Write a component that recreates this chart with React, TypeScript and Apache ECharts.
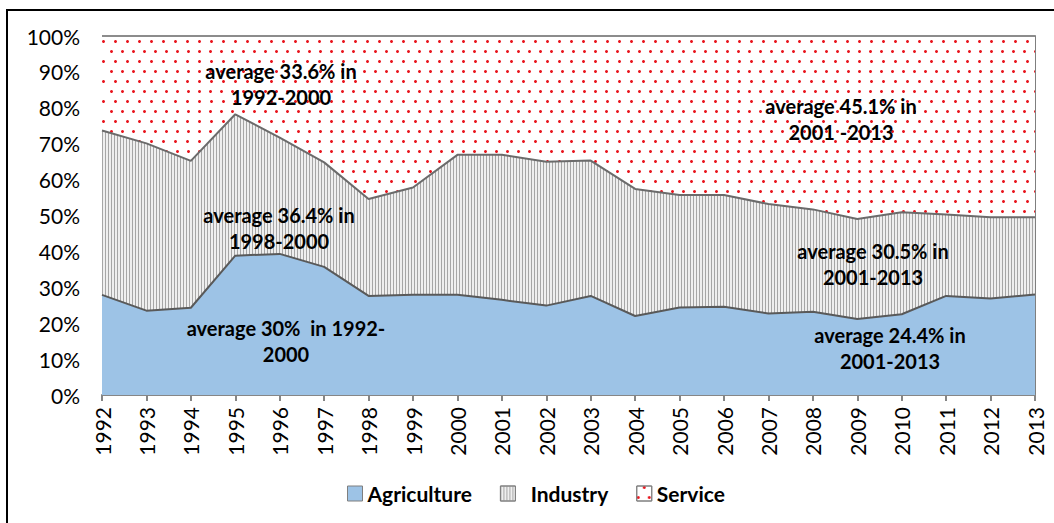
import React, { useEffect, useRef } from "react";
import * as echarts from "echarts";

const years = ["1992","1993","1994","1995","1996","1997","1998","1999","2000","2001","2002","2003","2004","2005","2006","2007","2008","2009","2010","2011","2012","2013"];
const agriculture = [27.9, 23.5, 24.3, 38.8, 39.3, 35.7, 27.6, 27.9, 27.9, 26.5, 24.9, 27.6, 22.0, 24.4, 24.6, 22.7, 23.2, 21.2, 22.5, 27.6, 26.9, 28.0];
const industry = [45.8, 46.6, 40.9, 39.4, 32.4, 29.1, 27.0, 29.9, 39.0, 40.4, 40.1, 37.7, 35.4, 31.3, 31.1, 30.5, 28.5, 27.8, 28.4, 22.7, 22.6, 21.5];
const service = [26.3, 29.9, 34.8, 21.8, 28.3, 35.2, 45.4, 42.2, 33.1, 33.1, 35.0, 34.7, 42.6, 44.3, 44.3, 46.8, 48.3, 51.0, 49.1, 49.7, 50.5, 50.5];
const yTicks = [0, 10, 20, 30, 40, 50, 60, 70, 80, 90, 100];

const annotations = [
  { text: "average 33.6% in\n1992-2000", x: 281, y: 84 },
  { text: "average 36.4% in\n1998-2000", x: 279, y: 228 },
  { text: "average 30%  in 1992-\n2000", x: 286, y: 341 },
  { text: "average 45.1% in\n2001 -2013", x: 841, y: 119 },
  { text: "average 30.5% in\n2001-2013", x: 873, y: 264 },
  { text: "average 24.4% in\n2001-2013", x: 890, y: 348 },
];

const FONT = "Lato";

export default function App() {
  const ref = useRef<HTMLDivElement>(null);
  useEffect(() => {
    if (!ref.current) return;
    const chart = echarts.init(ref.current, null, { renderer: "svg" });
    const option: any = {
      animation: false,
      backgroundColor: "#ffffff",
      textStyle: { fontFamily: FONT },
      grid: { left: 102, right: 19, top: 36, bottom: 128 },
      legend: {
        left: 342,
        top: 478,
        icon: "rect",
        itemWidth: 15,
        itemHeight: 15,
        itemGap: 28,
        itemStyle: { borderColor: "#7f7f7f", borderWidth: 1 },
        textStyle: { fontFamily: FONT, fontSize: 21, fontWeight: "bold", color: "#000" },
        formatter: (name: string) => (name === "Industry" ? "  " + name : name),
        data: ["Agriculture", "Industry", "Service"],
      },
      xAxis: {
        type: "category",
        data: years,
        boundaryGap: false,
        axisLine: { lineStyle: { color: "#868686", width: 2 } },
        axisTick: { show: true, length: 6, lineStyle: { color: "#868686", width: 2 } },
        axisLabel: { rotate: 90, margin: 12, fontSize: 21, color: "#000", fontFamily: FONT },
        splitLine: { show: false },
      },
      yAxis: [
        {
          type: "value",
          min: 0,
          max: 100,
          interval: 10,
          axisLine: { show: false },
          axisTick: { show: false },
          splitLine: { show: false },
          axisLabel: {
            margin: 22,
            fontSize: 21,
            color: "#000",
            fontFamily: FONT,
            formatter: (v: number) => (yTicks.includes(v) ? v + "%" : ""),
          },
        },
        {
          type: "value",
          position: "right",
          min: 0,
          max: 100,
          interval: 10,
          axisLine: { show: true, lineStyle: { color: "#7f7f7f", width: 2 } },
          axisTick: { show: false },
          axisLabel: { show: false },
          splitLine: { show: false },
        },
      ],
      series: [
        {
          name: "Agriculture",
          type: "line",
          stack: "total",
          data: agriculture,
          showSymbol: false,
          symbol: "none",
          lineStyle: { color: "#595959", width: 2 },
          itemStyle: { color: "#9dc3e6" },
          areaStyle: { color: "#9dc3e6", opacity: 1 },
          z: 3,
        },
        {
          name: "Industry",
          type: "line",
          stack: "total",
          data: industry,
          showSymbol: false,
          symbol: "none",
          lineStyle: { color: "#6b6b6b", width: 2 },
          itemStyle: {
            color: "#efefef",
            decal: {
              symbol: "rect",
              symbolSize: 1,
              color: "#a6a6a6",
              dashArrayX: [1, 2],
              dashArrayY: [4, 0],
            },
          },
          areaStyle: { color: "#efefef", opacity: 1 },
          z: 2,
        },
        {
          name: "Service",
          type: "line",
          stack: "total",
          data: service,
          showSymbol: false,
          symbol: "none",
          lineStyle: { color: "#8c8c8c", width: 2 },
          itemStyle: {
            color: "#ffffff",
            decal: {
              symbol: "circle",
              symbolSize: 1,
              color: "#e8141c",
              dashArrayX: [[3, 8], [0, 5.5, 3, 2.5]],
              dashArrayY: [3, 7],
            },
          },
          areaStyle: { color: "#ffffff", opacity: 1 },
          z: 1,
        },
      ],
      graphic: [
        {
          type: "rect",
          shape: { x: 7, y: 10, width: 1100, height: 600 },
          style: { fill: "none", stroke: "#000", lineWidth: 2 },
          silent: true,
          z: 200,
        },
        ...annotations.map((a) => ({
          type: "text",
          x: a.x,
          y: a.y,
          z: 100,
          style: {
            text: a.text,
            fontFamily: FONT,
            fontSize: 20,
            fontWeight: "bold",
            fill: "#000",
            align: "center",
            verticalAlign: "middle",
            lineHeight: 26,
          },
        })),
      ],
    };
    chart.setOption(option);
    return () => chart.dispose();
  }, []);
  return (
    <div
      ref={ref}
      style={{ position: "absolute", left: 0, top: 0, width: 1054, height: 523 }}
    />
  );
}
